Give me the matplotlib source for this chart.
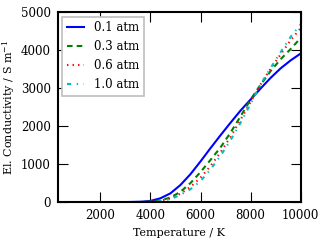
import matplotlib
matplotlib.use("Agg")
import matplotlib.pyplot as plt

plt.rcParams['font.family'] = ['DejaVu Serif']
plt.rcParams['mathtext.fontset'] = 'dejavuserif'
plt.rcParams['lines.scale_dashes'] = False

T = [300, 1000, 2000, 3000, 3600, 4000, 4400, 4800, 5200, 5600, 6000, 6400, 6800, 7200, 7600,
     8000, 8400, 8800, 9200, 9600, 10000]
s01 = [0, 0, 0, 0, 8, 30, 100, 230, 450, 735, 1070, 1420, 1760, 2090, 2410,
       2700, 2990, 3270, 3520, 3730, 3910]
s03 = [0, 0, 0, 0, 3, 15, 45, 120, 270, 500, 790, 1110, 1440, 1830, 2260,
       2700, 3090, 3450, 3760, 4030, 4320]
s06 = [0, 0, 0, 0, 2, 10, 35, 95, 220, 400, 640, 950, 1310, 1720, 2170,
       2640, 3100, 3510, 3890, 4260, 4580]
s10 = [0, 0, 0, 0, 1, 7, 25, 75, 190, 340, 550, 860, 1220, 1630, 2090,
       2590, 3100, 3530, 3950, 4350, 4680]
labels = ['0.1 atm', '0.3 atm', '0.6 atm', '1.0 atm']
colors = ['b', 'g', 'r', 'c']
styles = ['-', (0, (4, 3)), (0, (1, 3)), (0, (3, 4, 1, 4))]

fig = plt.figure(figsize=(3.2, 2.4), dpi=100)
ax = fig.add_axes([0.18, 0.158, 0.76, 0.792])
for s, lab, c, ls in zip([s01, s03, s06, s10], labels, colors, styles):
    ax.plot(T, s, color=c, linestyle=ls, linewidth=1.5, label=lab)

ax.set_xlim(300, 10000)
ax.set_ylim(0, 5000)
ax.set_xticks([2000, 4000, 6000, 8000, 10000])
ax.set_yticks([0, 1000, 2000, 3000, 4000, 5000])
ax.tick_params(direction='in', length=7, width=0.8, top=True, right=True, labelsize=8.5, pad=5)
for sp in ax.spines.values():
    sp.set_linewidth(1.5)
ax.set_xlabel('Temperature / K', fontsize=8)
ax.set_ylabel('El. Conductivity / S m$^{-1}$', fontsize=8)
ax.yaxis.set_label_coords(-0.165, 0.5)
leg = ax.legend(loc='upper left', fontsize=8.5, fancybox=False, framealpha=1, edgecolor='0.75',
                handlelength=1.4, handletextpad=0.9, borderaxespad=0.4, labelspacing=0.5)
leg.get_frame().set_linewidth(1.2)
fig.savefig('out.png', dpi=100)
